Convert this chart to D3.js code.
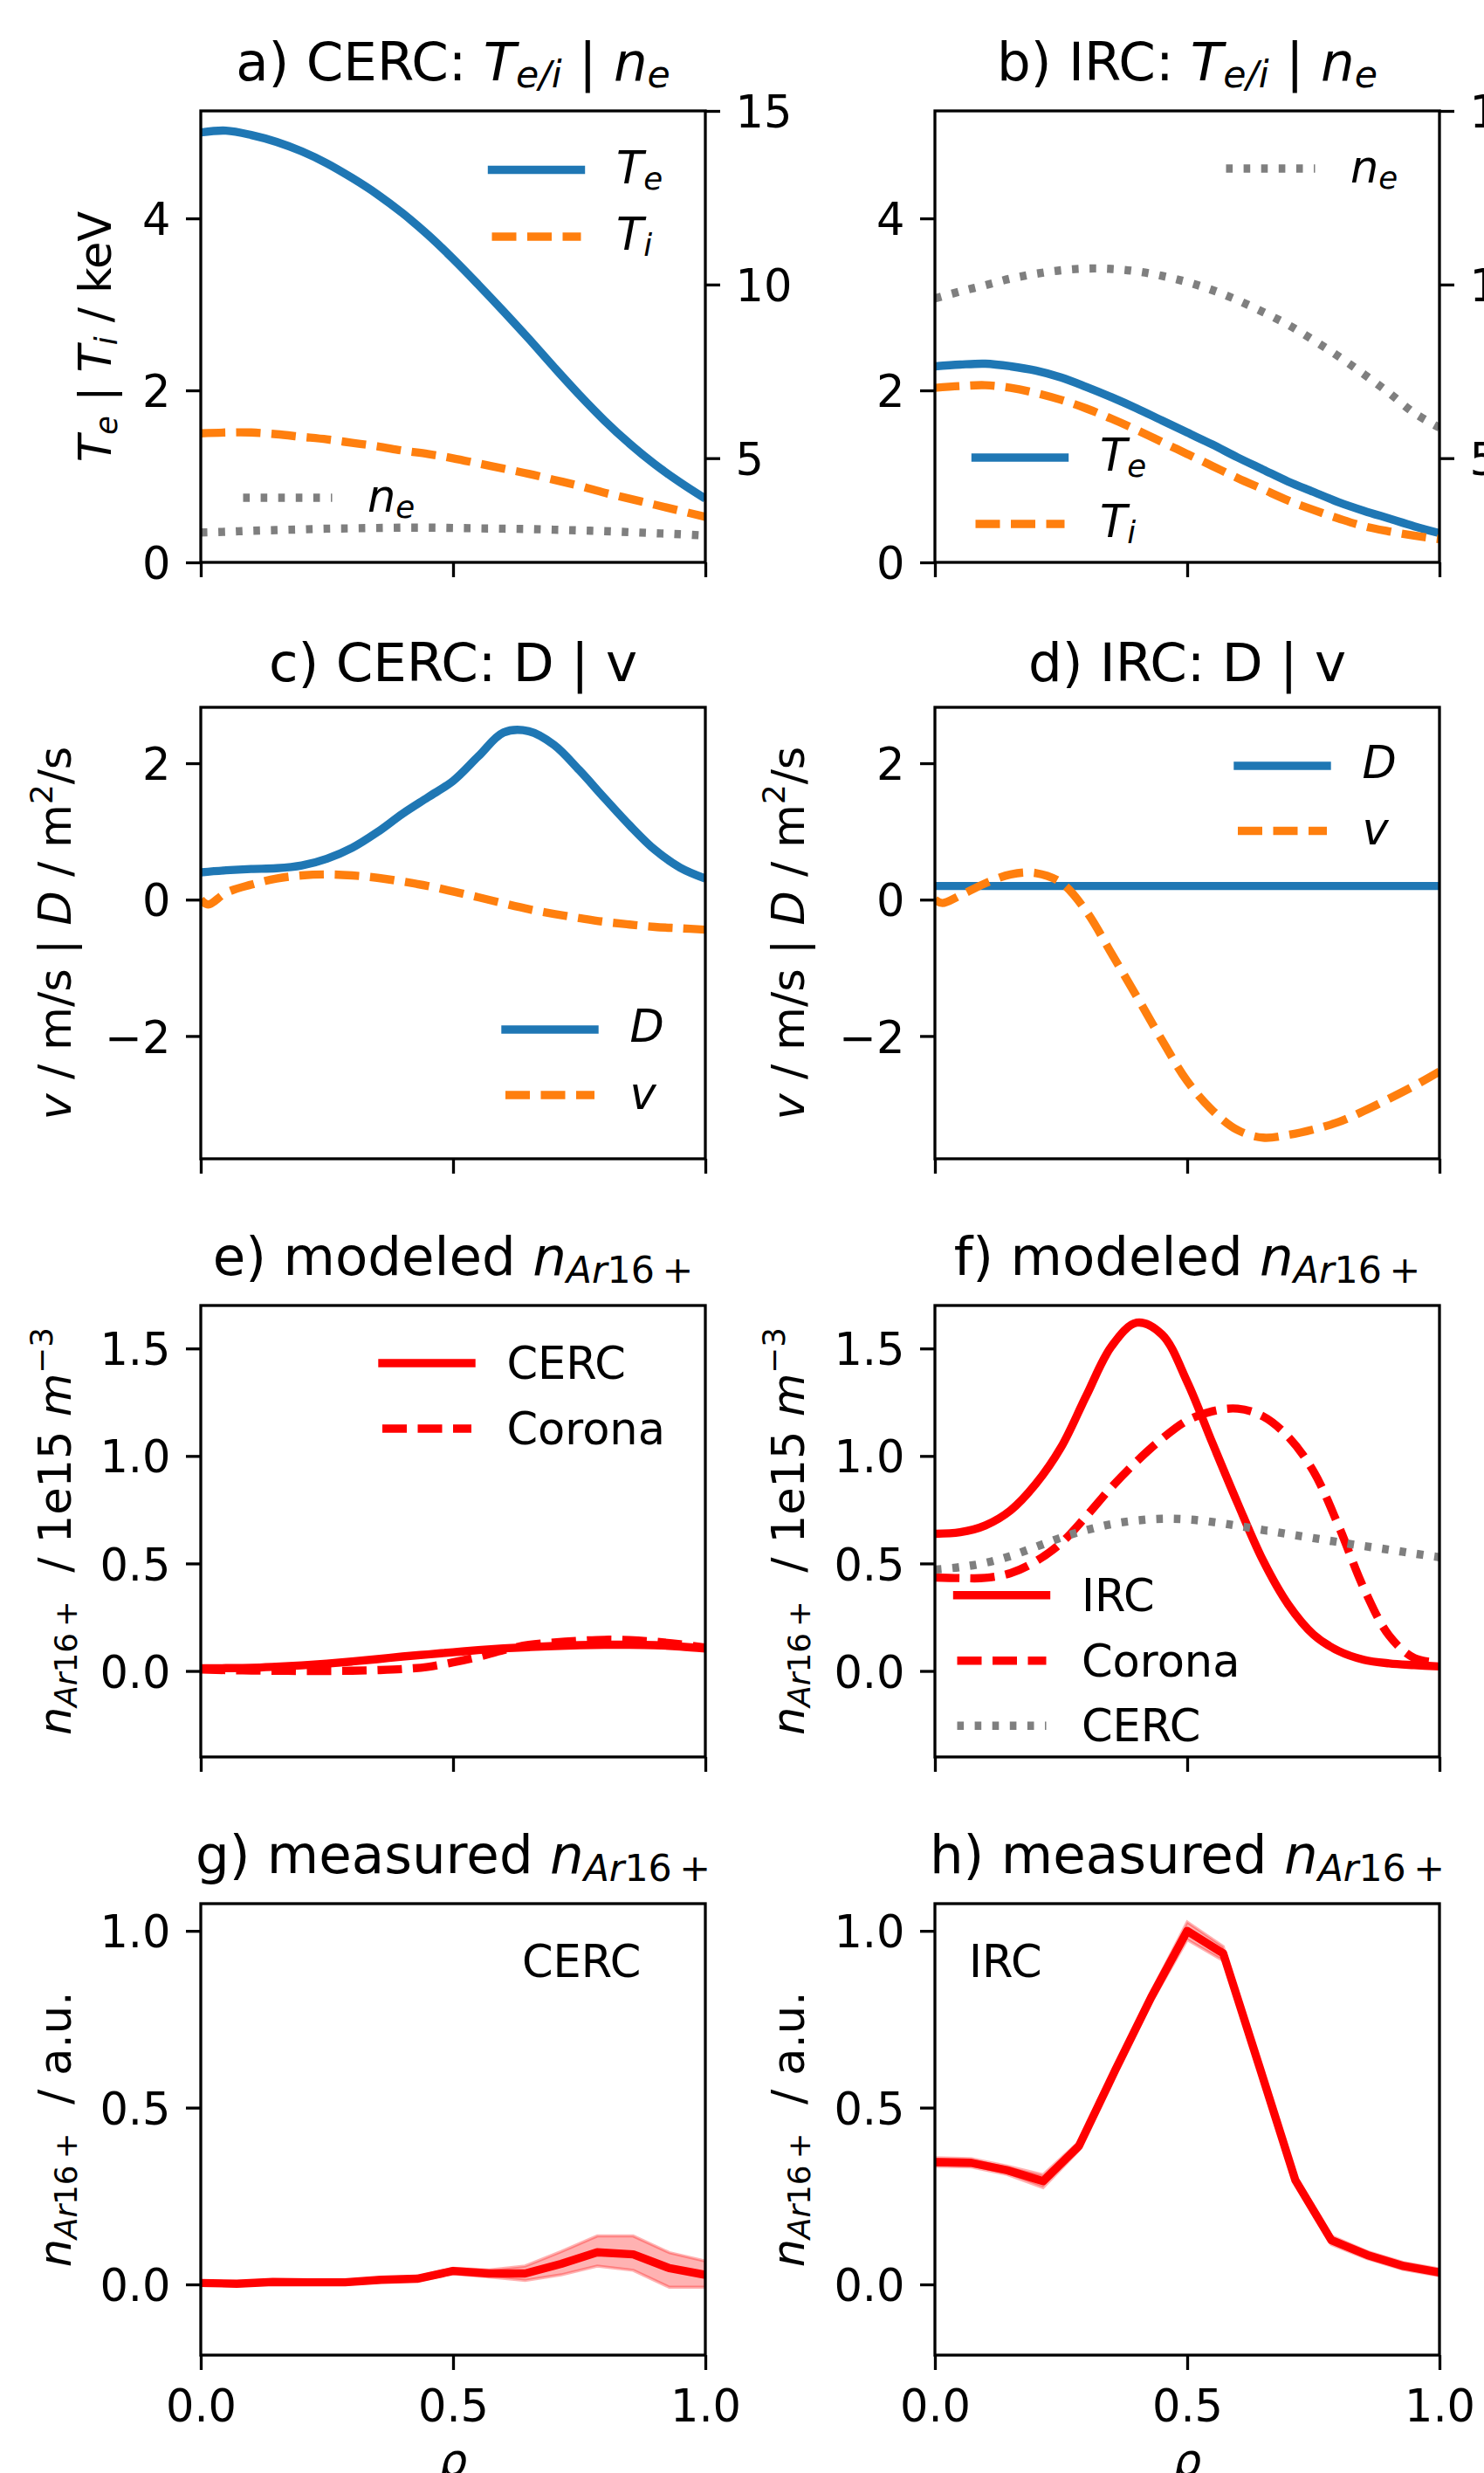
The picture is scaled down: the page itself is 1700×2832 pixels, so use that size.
<!DOCTYPE html>
<html>
<head>
<meta charset="utf-8">
<script src="https://cdn.jsdelivr.net/npm/d3@7"></script>
<style>
  body { margin: 0; background: #fff; }
  text { font-family: "DejaVu Sans"; }
</style>
</head>
<body>
<div id="chart"></div>
<script>
// ---- data ----
var rho = [0, 0.05, 0.1, 0.15, 0.2, 0.25, 0.3, 0.35, 0.4, 0.45, 0.5, 0.55, 0.6, 0.65, 0.7, 0.75, 0.8, 0.85, 0.9, 0.95, 1];
var rhoV = [0, 0.015, 0.05, 0.1, 0.15, 0.2, 0.25, 0.3, 0.35, 0.4, 0.45, 0.5, 0.55, 0.6, 0.65, 0.7, 0.75, 0.8, 0.85, 0.9, 0.95, 1];
var rhoFlat = [0, 1];
var rhoMeas = [0, 0.0714, 0.1429, 0.2143, 0.2857, 0.3571, 0.4286, 0.5, 0.5714, 0.6429, 0.7143, 0.7857, 0.8571, 0.9286, 1];

// a) CERC profiles
var aTe = [5.00, 5.02, 4.97, 4.89, 4.78, 4.64, 4.47, 4.28, 4.06, 3.81, 3.53, 3.23, 2.92, 2.60, 2.27, 1.95, 1.65, 1.38, 1.14, 0.93, 0.74];
var aTi = [1.50, 1.51, 1.51, 1.49, 1.46, 1.43, 1.39, 1.35, 1.30, 1.26, 1.21, 1.15, 1.09, 1.03, 0.96, 0.89, 0.81, 0.74, 0.67, 0.60, 0.53];
var aNe = [2.86, 2.88, 2.91, 2.93, 2.95, 2.97, 2.98, 2.99, 3.00, 3.00, 2.99, 2.98, 2.97, 2.96, 2.94, 2.92, 2.90, 2.87, 2.84, 2.81, 2.77];
// b) IRC profiles
var bTe = [2.28, 2.30, 2.31, 2.28, 2.23, 2.15, 2.04, 1.92, 1.79, 1.65, 1.51, 1.37, 1.22, 1.08, 0.94, 0.82, 0.70, 0.60, 0.51, 0.42, 0.34];
var bTi = [2.03, 2.05, 2.06, 2.03, 1.97, 1.89, 1.79, 1.67, 1.54, 1.40, 1.26, 1.12, 0.98, 0.85, 0.72, 0.61, 0.51, 0.42, 0.36, 0.31, 0.27];
var bNe = [9.60, 9.80, 9.98, 10.17, 10.31, 10.41, 10.46, 10.45, 10.38, 10.25, 10.07, 9.84, 9.55, 9.21, 8.84, 8.40, 7.93, 7.42, 6.88, 6.30, 5.88];
// c) CERC transport
var cD = [0.40, 0.43, 0.45, 0.46, 0.50, 0.60, 0.76, 0.99, 1.26, 1.50, 1.74, 2.10, 2.45, 2.47, 2.27, 1.90, 1.49, 1.09, 0.73, 0.47, 0.31];
var cV = [0.00, -0.07, 0.10, 0.22, 0.31, 0.355, 0.37, 0.355, 0.32, 0.265, 0.20, 0.12, 0.035, -0.055, -0.14, -0.21, -0.27, -0.325, -0.365, -0.40, -0.42, -0.44];
// d) IRC transport
var dD = [0.2, 0.2];
var dV = [0.00, -0.05, 0.06, 0.24, 0.37, 0.39, 0.25, -0.17, -0.79, -1.42, -2.06, -2.66, -3.09, -3.38, -3.49, -3.45, -3.37, -3.26, -3.10, -2.92, -2.73, -2.52];
// e) modeled, CERC case
var eCERC = [0.012, 0.013, 0.015, 0.020, 0.026, 0.034, 0.044, 0.055, 0.067, 0.077, 0.087, 0.097, 0.105, 0.111, 0.116, 0.120, 0.122, 0.122, 0.120, 0.114, 0.104];
var eCorona = [0.007, 0.004, 0.002, 0.001, 0.000, 0.000, 0.001, 0.004, 0.009, 0.019, 0.040, 0.066, 0.097, 0.121, 0.132, 0.140, 0.145, 0.143, 0.136, 0.124, 0.109];
// f) modeled, IRC case
var fIRC = [0.638, 0.645, 0.677, 0.747, 0.870, 1.040, 1.280, 1.510, 1.620, 1.565, 1.345, 1.060, 0.780, 0.515, 0.310, 0.170, 0.093, 0.052, 0.035, 0.027, 0.021];
var fCorona = [0.435, 0.432, 0.433, 0.455, 0.510, 0.595, 0.720, 0.855, 0.975, 1.080, 1.165, 1.208, 1.220, 1.185, 1.090, 0.930, 0.675, 0.385, 0.165, 0.060, 0.039];
var fCERC = [0.471, 0.483, 0.503, 0.535, 0.577, 0.620, 0.655, 0.683, 0.700, 0.708, 0.705, 0.693, 0.675, 0.656, 0.637, 0.618, 0.599, 0.581, 0.564, 0.546, 0.529];
// g) / h) measured
var gMeas = [0.004, 0.002, 0.007, 0.006, 0.006, 0.013, 0.016, 0.038, 0.031, 0.031, 0.058, 0.091, 0.085, 0.046, 0.027];
var gLow  = [-0.002, -0.004, 0.001, 0.000, 0.000, 0.007, 0.010, 0.030, 0.021, 0.011, 0.027, 0.052, 0.040, -0.008, -0.008];
var gHigh = [0.010, 0.008, 0.013, 0.012, 0.012, 0.019, 0.022, 0.046, 0.041, 0.052, 0.093, 0.137, 0.137, 0.090, 0.066];
var hMeas = [0.346, 0.344, 0.323, 0.292, 0.392, 0.605, 0.812, 1.000, 0.936, 0.617, 0.295, 0.125, 0.083, 0.052, 0.034];
var hLow  = [0.334, 0.332, 0.311, 0.274, 0.380, 0.593, 0.797, 0.975, 0.916, 0.605, 0.283, 0.113, 0.073, 0.042, 0.024];
var hHigh = [0.358, 0.356, 0.335, 0.310, 0.404, 0.617, 0.827, 1.025, 0.956, 0.629, 0.307, 0.137, 0.093, 0.062, 0.044];

// ticks
var xTicks = [0, 0.5, 1];
var tTicks = [0, 2, 4];
var neTicks = [5, 10, 15];
var dvTicks = [-2, 0, 2];
var modTicks = [0, 0.5, 1.0, 1.5];
var measTicks = [0, 0.5, 1.0];

// ---- layout ----
var W = 1700, H = 2832;
var colLeft = [230, 1071], axW = 578;
var rowTop = [127, 810, 1495, 2180], axH = 517;
var titleBase = [91.5, 780, 1460, 2144.7];
var FS = 51, FT = 61, LW = 9.4, TICK = 17, SPINE = 3.3;
var col = {blue: "#1f77b4", orange: "#ff7f0e", gray: "#7f7f7f", red: "#ff0000"};
var dashes = {solid: null, dashed: "28,12.5", dotted: "7.6,12.5"};

var svg = d3.select("#chart").append("svg")
    .attr("width", W).attr("height", H)
    .style("display", "block");
svg.append("rect").attr("width", W).attr("height", H).attr("fill", "#fff");

// text with italic / sub / superscript pieces, like mathtext
function rich(t, parts, size) {
    t.style("white-space", "pre");
    var shift = 0;
    parts.forEach(function(p) {
        var f = p[1] || "";
        var small = f.indexOf("b") >= 0 || f.indexOf("p") >= 0;
        var target = f.indexOf("b") >= 0 ? 0.145 * size : (f.indexOf("p") >= 0 ? -0.42 * size : 0);
        t.append("tspan")
            .attr("dy", (target - shift).toFixed(2))
            .attr("font-size", small ? size * 0.7 : size)
            .attr("font-style", f.indexOf("i") >= 0 ? "italic" : "normal")
            .text(p[0]);
        shift = target;
    });
    return t;
}

var nAr = [["n", "i"], ["Ar", "ib"], ["16", "b"], ["\u2009+", "b"]];
var LAB = {
    Te: [["T", "i"], ["e", "ib"]],
    Ti: [["T", "i"], ["i", "ib"]],
    ne: [["n", "i"], ["e", "ib"]],
    D: [["D", "i"]],
    v: [["v", "i"]],
    CERC: [["CERC"]], Corona: [["Corona"]], IRC: [["IRC"]]
};
var tempTitle = [["T", "i"], ["e/i", "ib"], [" | "], ["n", "i"], ["e", "ib"]];
var dvLabel = [["v", "i"], [" / m/s | "], ["D", "i"], [" / m"], ["2", "p"], ["/s"]];
var modLabel = nAr.concat([["  / 1e15 "], ["m", "i"], ["\u2212", "p"], ["3", "p"]]);
var measLabel = nAr.concat([["  / a.u."]]);

var panels = [
    {id: "a", c: 0, r: 0, y: [0, 5.25], ticks: tTicks, fmt: d3.format("d"), y2: [2, 15], ticks2: neTicks,
     title: [["a) CERC: "]].concat(tempTitle), ylab: [["T", "i"], ["e", "ib"], [" | "], ["T", "i"], ["i", "ib"], [" / keV"]], ylabX: 127,
     series: [
        {x: rho, v: aTe, color: col.blue, dash: "solid"},
        {x: rho, v: aTi, color: col.orange, dash: "dashed"},
        {x: rho, v: aNe, color: col.gray, dash: "dotted", right: true}],
     legend: [
        {x: 563.5, y: 194.5, lab: LAB.Te, color: col.blue, dash: "solid", dy: 15},
        {x: 563.5, y: 271, lab: LAB.Ti, color: col.orange, dash: "dashed", dy: 15},
        {x: 278.5, y: 570, lab: LAB.ne, color: col.gray, dash: "dotted", dy: 16}]},
    {id: "b", c: 1, r: 0, y: [0, 5.25], ticks: tTicks, fmt: d3.format("d"), y2: [2, 15], ticks2: neTicks,
     title: [["b) IRC: "]].concat(tempTitle), ylab: null,
     series: [
        {x: rho, v: bTe, color: col.blue, dash: "solid"},
        {x: rho, v: bTi, color: col.orange, dash: "dashed"},
        {x: rho, v: bNe, color: col.gray, dash: "dotted", right: true}],
     legend: [
        {x: 1404.5, y: 193, lab: LAB.ne, color: col.gray, dash: "dotted", dy: 16},
        {x: 1117.5, y: 524, lab: LAB.Te, color: col.blue, dash: "solid", dy: 15},
        {x: 1117.5, y: 600, lab: LAB.Ti, color: col.orange, dash: "dashed", dy: 15}]},
    {id: "c", c: 0, r: 1, y: [-3.8, 2.82], ticks: dvTicks, fmt: d3.format("d"),
     title: [["c) CERC: D | v"]], ylab: dvLabel, ylabX: 81,
     series: [
        {x: rho, v: cD, color: col.blue, dash: "solid"},
        {x: rhoV, v: cV, color: col.orange, dash: "dashed"}],
     legend: [
        {x: 579, y: 1179, lab: LAB.D, color: col.blue, dash: "solid", dy: 14},
        {x: 579, y: 1254, lab: LAB.v, color: col.orange, dash: "dashed", dy: 15.5}]},
    {id: "d", c: 1, r: 1, y: [-3.8, 2.82], ticks: dvTicks, fmt: d3.format("d"),
     title: [["d) IRC: D | v"]], ylab: dvLabel, ylabX: 920.5,
     series: [
        {x: rhoFlat, v: dD, color: col.blue, dash: "solid"},
        {x: rhoV, v: dV, color: col.orange, dash: "dashed"}],
     legend: [
        {x: 1418, y: 877, lab: LAB.D, color: col.blue, dash: "solid", dy: 14},
        {x: 1418, y: 951.5, lab: LAB.v, color: col.orange, dash: "dashed", dy: 15.5}]},
    {id: "e", c: 0, r: 2, y: [-0.4, 1.7], ticks: modTicks, fmt: d3.format(".1f"),
     title: [["e) modeled "]].concat(nAr), ylab: modLabel, ylabX: 81,
     series: [
        {x: rho, v: eCERC, color: col.red, dash: "solid"},
        {x: rho, v: eCorona, color: col.red, dash: "dashed"}],
     legend: [
        {x: 438, y: 1561, lab: LAB.CERC, color: col.red, dash: "solid", dy: 18},
        {x: 438, y: 1636, lab: LAB.Corona, color: col.red, dash: "dashed", dy: 18}]},
    {id: "f", c: 1, r: 2, y: [-0.4, 1.7], ticks: modTicks, fmt: d3.format(".1f"),
     title: [["f) modeled "]].concat(nAr), ylab: modLabel, ylabX: 920.5,
     series: [
        {x: rho, v: fIRC, color: col.red, dash: "solid"},
        {x: rho, v: fCorona, color: col.red, dash: "dashed"},
        {x: rho, v: fCERC, color: col.gray, dash: "dotted"}],
     legend: [
        {x: 1096.5, y: 1826.7, lab: LAB.IRC, color: col.red, dash: "solid", dy: 18},
        {x: 1096.5, y: 1901.7, lab: LAB.Corona, color: col.red, dash: "dashed", dy: 18},
        {x: 1096.5, y: 1976.3, lab: LAB.CERC, color: col.gray, dash: "dotted", dy: 18}]},
    {id: "g", c: 0, r: 3, y: [-0.2, 1.077], ticks: measTicks, fmt: d3.format(".1f"),
     title: [["g) measured "]].concat(nAr), ylab: measLabel, ylabX: 81,
     band: {x: rhoMeas, lo: gLow, hi: gHigh},
     series: [{x: rhoMeas, v: gMeas, color: col.red, dash: "solid", linear: true}],
     note: {text: "CERC", x: 598, y: 2264}, legend: []},
    {id: "h", c: 1, r: 3, y: [-0.2, 1.077], ticks: measTicks, fmt: d3.format(".1f"),
     title: [["h) measured "]].concat(nAr), ylab: measLabel, ylabX: 920.5,
     band: {x: rhoMeas, lo: hLow, hi: hHigh},
     series: [{x: rhoMeas, v: hMeas, color: col.red, dash: "solid", linear: true}],
     note: {text: "IRC", x: 1110, y: 2264}, legend: []}
];

function styleAxis(g) {
    g.select(".domain").remove();
    g.selectAll(".tick line").attr("stroke", "#000").attr("stroke-width", SPINE);
    g.selectAll(".tick text").attr("font-size", FS).attr("font-family", "DejaVu Sans").attr("fill", "#000");
}

panels.forEach(function(p) {
    var x0 = colLeft[p.c], y0 = rowTop[p.r];
    var x = d3.scaleLinear().domain([0, 1]).range([x0, x0 + axW]);
    var y = d3.scaleLinear().domain(p.y).range([y0 + axH, y0]);
    var y2 = p.y2 ? d3.scaleLinear().domain(p.y2).range([y0 + axH, y0]) : null;

    svg.append("clipPath").attr("id", "clip-" + p.id)
        .append("rect").attr("x", x0).attr("y", y0).attr("width", axW).attr("height", axH);
    var plot = svg.append("g").attr("clip-path", "url(#clip-" + p.id + ")");

    if (p.band) {
        var b = p.band;
        var area = d3.area()
            .x(function(d, i) { return x(b.x[i]); })
            .y0(function(d, i) { return y(b.lo[i]); })
            .y1(function(d, i) { return y(b.hi[i]); });
        plot.append("path").attr("d", area(b.lo))
            .attr("fill", col.red).attr("fill-opacity", 0.3)
            .attr("stroke", col.red).attr("stroke-opacity", 0.3).attr("stroke-width", 3.5);
    }

    p.series.forEach(function(s) {
        var ys = s.right ? y2 : y;
        var line = d3.line()
            .x(function(d, i) { return x(s.x[i]); })
            .y(function(d) { return ys(d); })
            .curve(s.linear ? d3.curveLinear : d3.curveCatmullRom.alpha(0.5));
        plot.append("path").attr("d", line(s.v))
            .attr("fill", "none").attr("stroke", s.color).attr("stroke-width", LW)
            .attr("stroke-linejoin", "round")
            .attr("stroke-dasharray", dashes[s.dash]);
    });

    // axes
    var gl = svg.append("g").attr("transform", "translate(" + x0 + ",0)")
        .call(d3.axisLeft(y).tickValues(p.ticks).tickSize(TICK).tickPadding(17.5).tickFormat(p.fmt));
    styleAxis(gl);
    gl.selectAll(".tick text").attr("dy", "0.365em");

    if (y2) {
        var gr = svg.append("g").attr("transform", "translate(" + (x0 + axW) + ",0)")
            .call(d3.axisRight(y2).tickValues(p.ticks2).tickSize(TICK).tickPadding(17.5).tickFormat(d3.format("d")));
        styleAxis(gr);
        gr.selectAll(".tick text").attr("dy", "0.365em");
    }

    var last = p.r === 3;
    var gb = svg.append("g").attr("transform", "translate(0," + (y0 + axH) + ")")
        .call(d3.axisBottom(x).tickValues(xTicks).tickSize(TICK)
            .tickFormat(last ? d3.format(".1f") : function() { return ""; }));
    styleAxis(gb);
    gb.selectAll(".tick text").attr("y", 76).attr("dy", 0);

    svg.append("rect").attr("x", x0).attr("y", y0).attr("width", axW).attr("height", axH)
        .attr("fill", "none").attr("stroke", "#000").attr("stroke-width", SPINE);

    // title
    rich(svg.append("text").attr("x", x0 + axW / 2).attr("y", titleBase[p.r])
        .attr("text-anchor", "middle").attr("fill", "#000"), p.title, FT);

    // y label
    if (p.ylab) {
        rich(svg.append("text")
            .attr("transform", "translate(" + p.ylabX + "," + (y0 + axH / 2) + ") rotate(-90)")
            .attr("text-anchor", "middle").attr("fill", "#000"), p.ylab, FS);
    }

    if (last) {
        svg.append("text").attr("x", x0 + axW / 2).attr("y", 2835)
            .attr("text-anchor", "middle").attr("font-size", FS).attr("font-style", "italic")
            .text("\u03c1");
    }

    if (p.note) {
        svg.append("text").attr("x", p.note.x).attr("y", p.note.y)
            .attr("font-size", FS).attr("fill", "#000").text(p.note.text);
    }

    // legend (no frame)
    p.legend.forEach(function(e) {
        svg.append("line").attr("x1", e.x).attr("x2", e.x + 102).attr("y1", e.y).attr("y2", e.y)
            .attr("stroke", e.color).attr("stroke-width", LW)
            .attr("stroke-linecap", e.dash === "solid" ? "square" : "butt")
            .attr("stroke-dasharray", dashes[e.dash]);
        rich(svg.append("text").attr("x", e.x + 142.5).attr("y", e.y + e.dy).attr("fill", "#000"), e.lab, FS);
    });
});
</script>
</body>
</html>
